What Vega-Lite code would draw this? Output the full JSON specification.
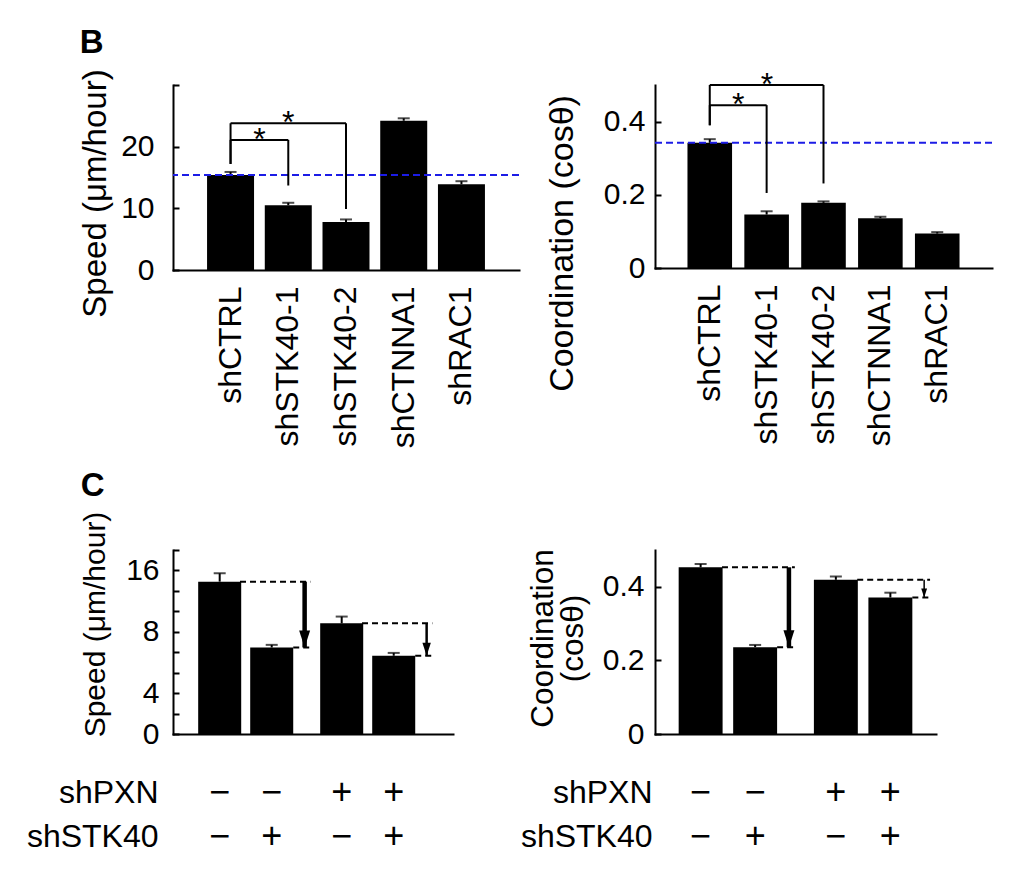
{
  "$schema": "https://vega.github.io/schema/vega-lite/v6.json",
  "background": "white",
  "padding": {"left": 26, "top": 26, "right": 5, "bottom": 5},
  "columns": 2,
  "align": "each",
  "spacing": {"row": 22, "column": 0},
  "resolve": {"scale": {"x": "independent", "y": "independent", "xOffset": "independent"}},
  "datasets": {
    "speedB": [
      {"cond": "shCTRL", "speed": 15.4, "err": 15.9},
      {"cond": "shSTK40-1", "speed": 10.5, "err": 10.9},
      {"cond": "shSTK40-2", "speed": 7.8, "err": 8.2},
      {"cond": "shCTNNA1", "speed": 24.2, "err": 24.6},
      {"cond": "shRAC1", "speed": 13.9, "err": 14.4}
    ],
    "coordB": [
      {"cond": "shCTRL", "coord": 0.342, "err": 0.352},
      {"cond": "shSTK40-1", "coord": 0.146, "err": 0.155},
      {"cond": "shSTK40-2", "coord": 0.178, "err": 0.182},
      {"cond": "shCTNNA1", "coord": 0.136, "err": 0.14},
      {"cond": "shRAC1", "coord": 0.094, "err": 0.098}
    ],
    "bracketsSpeed": [
      {"from": "shCTRL", "to": "shSTK40-1", "start": 17.2, "top": 21.1, "end": 13.7, "id": 1, "sig": "*"},
      {"from": "shCTRL", "to": "shSTK40-2", "start": 17.2, "top": 23.8, "end": 9.9, "id": 2, "sig": "*"}
    ],
    "bracketsCoord": [
      {"from": "shCTRL", "to": "shSTK40-1", "start": 0.39, "top": 0.445, "end": 0.205, "id": 1, "sig": "*"},
      {"from": "shCTRL", "to": "shSTK40-2", "start": 0.39, "top": 0.5, "end": 0.231, "id": 2, "sig": "*"}
    ],
    "speedC": [
      {"pxn": "−", "stk": "−", "speed": 14.1, "err": 15.5},
      {"pxn": "−", "stk": "+", "speed": 6.7, "err": 6.9},
      {"pxn": "+", "stk": "−", "speed": 8.8, "err": 9.5},
      {"pxn": "+", "stk": "+", "speed": 6.1, "err": 6.3}
    ],
    "coordC": [
      {"pxn": "−", "stk": "−", "coord": 0.453, "err": 0.462},
      {"pxn": "−", "stk": "+", "coord": 0.236, "err": 0.242},
      {"pxn": "+", "stk": "−", "coord": 0.419, "err": 0.428},
      {"pxn": "+", "stk": "+", "coord": 0.371, "err": 0.384}
    ],
    "arrowsSpeed": [
      {"pxn": "−", "hi": 14.1, "lo": 6.7},
      {"pxn": "+", "hi": 8.8, "lo": 6.1}
    ],
    "arrowsCoord": [
      {"pxn": "−", "hi": 0.453, "lo": 0.236},
      {"pxn": "+", "hi": 0.419, "lo": 0.371}
    ],
    "table": [
      {"pxn": "−", "stk": "−", "row": "shPXN", "sign": "−"},
      {"pxn": "−", "stk": "+", "row": "shPXN", "sign": "−"},
      {"pxn": "+", "stk": "−", "row": "shPXN", "sign": "+"},
      {"pxn": "+", "stk": "+", "row": "shPXN", "sign": "+"},
      {"pxn": "−", "stk": "−", "row": "shSTK40", "sign": "−"},
      {"pxn": "−", "stk": "+", "row": "shSTK40", "sign": "+"},
      {"pxn": "+", "stk": "−", "row": "shSTK40", "sign": "−"},
      {"pxn": "+", "stk": "+", "row": "shSTK40", "sign": "+"}
    ]
  },
  "concat": [
    {
      "width": 346, "height": 185,
      "title": {"text": "B", "anchor": "start", "frame": "bounds", "fontSize": 33, "fontWeight": "bold", "offset": 9, "color": "black"},
      "layer": [
        {"data": {"name": "speedB"}, "mark": {"type": "bar", "color": "black"},
         "encoding": {
           "x": {"field": "cond", "type": "nominal", "title": null, "scale": {"domain": ["shCTRL", "shSTK40-1", "shSTK40-2", "shCTNNA1", "shRAC1"], "paddingInner": 0.186, "paddingOuter": 0.59}},
           "y": {"field": "speed", "type": "quantitative", "scale": {"domain": [0, 30], "nice": false},
                 "axis": {"values": [0, 5, 10, 15, 20, 25, 30], "labelExpr": "datum.value == 0 || datum.value == 10 || datum.value == 20 ? datum.label : ''", "title": "Speed (μm/hour)", "titleY": 108, "titlePadding": 8, "labelPadding": 25, "labelOverlap": false}}
         }},
        {"data": {"name": "speedB"}, "mark": {"type": "rule", "color": "black", "strokeWidth": 2},
         "encoding": {"x": {"field": "cond", "type": "nominal"}, "y": {"field": "speed", "type": "quantitative"}, "y2": {"field": "err"}}},
        {"data": {"name": "speedB"}, "mark": {"type": "tick", "color": "black", "thickness": 2, "size": 12, "orient": "horizontal"},
         "encoding": {"x": {"field": "cond", "type": "nominal"}, "y": {"field": "err", "type": "quantitative"}}},
        {"data": {"name": "speedB"}, "transform": [{"filter": "datum.cond == 'shCTRL'"}], "mark": {"type": "rule", "color": "#1c1ce6", "strokeWidth": 2, "strokeDash": [7, 4]},
         "encoding": {"y": {"field": "speed", "type": "quantitative"}}},
        {"data": {"name": "bracketsSpeed"}, "mark": {"type": "rule", "color": "black", "strokeWidth": 2},
         "encoding": {"x": {"field": "from", "type": "nominal"}, "y": {"field": "start", "type": "quantitative"}, "y2": {"field": "top"}}},
        {"data": {"name": "bracketsSpeed"}, "mark": {"type": "rule", "color": "black", "strokeWidth": 2},
         "encoding": {"x": {"field": "from", "type": "nominal", "bandPosition": 0.5}, "x2": {"field": "to", "bandPosition": 0.5}, "y": {"field": "top", "type": "quantitative"}}},
        {"data": {"name": "bracketsSpeed"}, "mark": {"type": "rule", "color": "black", "strokeWidth": 2},
         "encoding": {"x": {"field": "to", "type": "nominal"}, "y": {"field": "top", "type": "quantitative"}, "y2": {"field": "end"}}},
        {"data": {"name": "bracketsSpeed"}, "transform": [{"filter": "datum.id == 1"}], "mark": {"type": "text", "fontSize": 32, "baseline": "middle", "color": "black"},
         "encoding": {"x": {"field": "from", "type": "nominal", "bandPosition": 1.114}, "y": {"field": "top", "type": "quantitative"}, "text": {"field": "sig"}}},
        {"data": {"name": "bracketsSpeed"}, "transform": [{"filter": "datum.id == 2"}], "mark": {"type": "text", "fontSize": 32, "baseline": "middle", "color": "black"},
         "encoding": {"x": {"field": "from", "type": "nominal", "bandPosition": 1.729}, "y": {"field": "top", "type": "quantitative"}, "text": {"field": "sig"}}}
      ]
    },
    {
      "width": 337, "height": 183,
      "layer": [
        {"data": {"name": "coordB"}, "mark": {"type": "bar", "color": "black"},
         "encoding": {
           "x": {"field": "cond", "type": "nominal", "title": null, "scale": {"domain": ["shCTRL", "shSTK40-1", "shSTK40-2", "shCTNNA1", "shRAC1"], "paddingInner": 0.216, "paddingOuter": 0.571}},
           "y": {"field": "coord", "type": "quantitative", "scale": {"domain": [0, 0.5], "nice": false},
                 "axis": {"values": [0, 0.1, 0.2, 0.3, 0.4, 0.5], "labelExpr": "datum.value == 0 ? '0' : (abs(datum.value - 0.2) < 0.0001 || abs(datum.value - 0.4) < 0.0001) ? format(datum.value, '.1f') : ''", "title": "Coordination (cosθ)", "titleFontSize": 34, "titleY": 158, "titlePadding": 24, "labelPadding": 16, "labelOverlap": false}}
         }},
        {"data": {"name": "coordB"}, "mark": {"type": "rule", "color": "black", "strokeWidth": 2},
         "encoding": {"x": {"field": "cond", "type": "nominal"}, "y": {"field": "coord", "type": "quantitative"}, "y2": {"field": "err"}}},
        {"data": {"name": "coordB"}, "mark": {"type": "tick", "color": "black", "thickness": 2, "size": 12, "orient": "horizontal"},
         "encoding": {"x": {"field": "cond", "type": "nominal"}, "y": {"field": "err", "type": "quantitative"}}},
        {"data": {"name": "coordB"}, "transform": [{"filter": "datum.cond == 'shCTRL'"}], "mark": {"type": "rule", "color": "#1c1ce6", "strokeWidth": 2, "strokeDash": [7, 4]},
         "encoding": {"y": {"field": "coord", "type": "quantitative"}}},
        {"data": {"name": "bracketsCoord"}, "mark": {"type": "rule", "color": "black", "strokeWidth": 2},
         "encoding": {"x": {"field": "from", "type": "nominal"}, "y": {"field": "start", "type": "quantitative"}, "y2": {"field": "top"}}},
        {"data": {"name": "bracketsCoord"}, "mark": {"type": "rule", "color": "black", "strokeWidth": 2},
         "encoding": {"x": {"field": "from", "type": "nominal", "bandPosition": 0.5}, "x2": {"field": "to", "bandPosition": 0.5}, "y": {"field": "top", "type": "quantitative"}}},
        {"data": {"name": "bracketsCoord"}, "mark": {"type": "rule", "color": "black", "strokeWidth": 2},
         "encoding": {"x": {"field": "to", "type": "nominal"}, "y": {"field": "top", "type": "quantitative"}, "y2": {"field": "end"}}},
        {"data": {"name": "bracketsCoord"}, "transform": [{"filter": "datum.id == 1"}], "mark": {"type": "text", "fontSize": 32, "baseline": "middle", "color": "black"},
         "encoding": {"x": {"field": "from", "type": "nominal", "bandPosition": 1.141}, "y": {"field": "top", "type": "quantitative"}, "text": {"field": "sig"}}},
        {"data": {"name": "bracketsCoord"}, "transform": [{"filter": "datum.id == 2"}], "mark": {"type": "text", "fontSize": 32, "baseline": "middle", "color": "black"},
         "encoding": {"x": {"field": "from", "type": "nominal", "bandPosition": 1.782}, "y": {"field": "top", "type": "quantitative"}, "text": {"field": "sig"}}}
      ]
    },
    {
      "width": 280, "height": 184,
      "title": {"text": "C", "anchor": "start", "frame": "bounds", "fontSize": 33, "fontWeight": "bold", "offset": 8, "color": "black"},
      "layer": [
        {"data": {"name": "arrowsSpeed"}, "mark": {"type": "rule", "color": "black", "strokeWidth": 2, "strokeDash": [6, 4]},
         "encoding": {"x": {"field": "pxn", "type": "nominal", "bandPosition": 0.44}, "x2": {"field": "pxn", "bandPosition": 1.18}, "y": {"field": "hi", "type": "quantitative"}}},
        {"data": {"name": "arrowsSpeed"}, "mark": {"type": "rule", "color": "black", "strokeWidth": 2, "strokeDash": [6, 4]},
         "encoding": {"x": {"field": "pxn", "type": "nominal", "bandPosition": 1.0}, "x2": {"field": "pxn", "bandPosition": 1.18}, "y": {"field": "lo", "type": "quantitative"}}},
        {"data": {"name": "speedC"}, "mark": {"type": "bar", "color": "black"},
         "encoding": {
           "x": {"field": "pxn", "type": "nominal", "scale": {"type": "band", "domain": ["−", "+"], "paddingInner": 0.221, "paddingOuter": 0.258, "align": 0.4}, "axis": {"labels": false, "ticks": false, "title": null}},
           "xOffset": {"field": "stk", "type": "nominal", "scale": {"type": "band", "domain": ["−", "+"], "paddingInner": 0.173, "paddingOuter": 0}},
           "y": {"field": "speed", "type": "quantitative", "stack": null, "scale": {"type": "log", "base": 2, "domain": [2.5198, 20.1587], "nice": false, "zero": false},
                 "axis": {"values": [2.5198, 3.1748, 4, 5.0397, 6.3496, 8, 10.0794, 12.6992, 16, 20.1587], "labelExpr": "datum.value < 3 ? '0' : (datum.value == 4 || datum.value == 8 || datum.value == 16) ? format(datum.value, 'd') : ''", "title": "Speed (μm/hour)", "titleFontSize": 30, "titleY": 74, "titlePadding": 15, "labelPadding": 20, "labelOverlap": false}}
         }},
        {"data": {"name": "speedC"}, "mark": {"type": "rule", "color": "black", "strokeWidth": 2},
         "encoding": {"x": {"field": "pxn", "type": "nominal"}, "xOffset": {"field": "stk", "type": "nominal"}, "y": {"field": "speed", "type": "quantitative"}, "y2": {"field": "err"}}},
        {"data": {"name": "speedC"}, "mark": {"type": "tick", "color": "black", "thickness": 2, "size": 12, "orient": "horizontal"},
         "encoding": {"x": {"field": "pxn", "type": "nominal"}, "xOffset": {"field": "stk", "type": "nominal"}, "y": {"field": "err", "type": "quantitative"}}},
        {"data": {"name": "arrowsSpeed"}, "mark": {"type": "rule", "color": "black"},
         "encoding": {"x": {"field": "pxn", "type": "nominal", "bandPosition": 1.12}, "y": {"field": "hi", "type": "quantitative"}, "y2": {"field": "lo"},
                      "strokeWidth": {"condition": {"test": "datum.pxn == '+'", "value": 2.5}, "value": 4.5}}},
        {"data": {"name": "arrowsSpeed"}, "mark": {"type": "point", "shape": "M-0.65,-2L0.65,-2L0,0Z", "filled": true, "color": "black", "opacity": 1, "strokeWidth": 0},
         "encoding": {"x": {"field": "pxn", "type": "nominal", "bandPosition": 1.12}, "y": {"field": "lo", "type": "quantitative"},
                      "size": {"condition": {"test": "datum.pxn == '+'", "value": 169}, "value": 286}}}
      ]
    },
    {
      "width": 281, "height": 184,
      "layer": [
        {"data": {"name": "arrowsCoord"}, "mark": {"type": "rule", "color": "black", "strokeWidth": 2, "strokeDash": [6, 4]},
         "encoding": {"x": {"field": "pxn", "type": "nominal", "bandPosition": 0.44}, "x2": {"field": "pxn", "bandPosition": 1.18}, "y": {"field": "hi", "type": "quantitative"}}},
        {"data": {"name": "arrowsCoord"}, "mark": {"type": "rule", "color": "black", "strokeWidth": 2, "strokeDash": [6, 4]},
         "encoding": {"x": {"field": "pxn", "type": "nominal", "bandPosition": 1.0}, "x2": {"field": "pxn", "bandPosition": 1.18}, "y": {"field": "lo", "type": "quantitative"}}},
        {"data": {"name": "coordC"}, "mark": {"type": "bar", "color": "black"},
         "encoding": {
           "x": {"field": "pxn", "type": "nominal", "scale": {"type": "band", "domain": ["−", "+"], "paddingInner": 0.272, "paddingOuter": 0.175}, "axis": {"labels": false, "ticks": false, "title": null}},
           "xOffset": {"field": "stk", "type": "nominal", "scale": {"type": "band", "domain": ["−", "+"], "paddingInner": 0.194, "paddingOuter": 0}},
           "y": {"field": "coord", "type": "quantitative", "stack": null, "scale": {"domain": [0, 0.5], "nice": false},
                 "axis": {"values": [0, 0.05, 0.1, 0.15, 0.2, 0.25, 0.3, 0.35, 0.4, 0.45, 0.5], "labelExpr": "datum.value == 0 ? '0' : (abs(datum.value - 0.2) < 0.0001 || abs(datum.value - 0.4) < 0.0001) ? format(datum.value, '.1f') : ''", "title": ["Coordination", "(cosθ)"], "titleFontSize": 31.5, "titleLineHeight": 30, "titleY": 88, "titlePadding": 13, "labelPadding": 17, "labelOverlap": false}}
         }},
        {"data": {"name": "coordC"}, "mark": {"type": "rule", "color": "black", "strokeWidth": 2},
         "encoding": {"x": {"field": "pxn", "type": "nominal"}, "xOffset": {"field": "stk", "type": "nominal"}, "y": {"field": "coord", "type": "quantitative"}, "y2": {"field": "err"}}},
        {"data": {"name": "coordC"}, "mark": {"type": "tick", "color": "black", "thickness": 2, "size": 12, "orient": "horizontal"},
         "encoding": {"x": {"field": "pxn", "type": "nominal"}, "xOffset": {"field": "stk", "type": "nominal"}, "y": {"field": "err", "type": "quantitative"}}},
        {"data": {"name": "arrowsCoord"}, "mark": {"type": "rule", "color": "black"},
         "encoding": {"x": {"field": "pxn", "type": "nominal", "bandPosition": 1.12}, "y": {"field": "hi", "type": "quantitative"}, "y2": {"field": "lo"},
                      "strokeWidth": {"condition": {"test": "datum.pxn == '+'", "value": 1.5}, "value": 4.5}}},
        {"data": {"name": "arrowsCoord"}, "mark": {"type": "point", "shape": "M-0.65,-2L0.65,-2L0,0Z", "filled": true, "color": "black", "opacity": 1, "strokeWidth": 0},
         "encoding": {"x": {"field": "pxn", "type": "nominal", "bandPosition": 1.12}, "y": {"field": "lo", "type": "quantitative"},
                      "size": {"condition": {"test": "datum.pxn == '+'", "value": 81}, "value": 286}}}
      ]
    },
    {
      "width": 280, "height": 88,
      "data": {"name": "table"},
      "mark": {"type": "text", "fontSize": 36, "color": "black", "baseline": "middle"},
      "encoding": {
        "x": {"field": "pxn", "type": "nominal", "scale": {"type": "band", "domain": ["−", "+"], "paddingInner": 0.221, "paddingOuter": 0.258, "align": 0.4}, "axis": null},
        "xOffset": {"field": "stk", "type": "nominal", "scale": {"type": "band", "domain": ["−", "+"], "paddingInner": 0.173, "paddingOuter": 0}},
        "y": {"field": "row", "type": "nominal", "scale": {"type": "band", "domain": ["shPXN", "shSTK40"], "paddingInner": 0, "paddingOuter": 0},
              "axis": {"domain": false, "ticks": false, "labelFontSize": 32, "labelPadding": 15, "title": null}},
        "text": {"field": "sign"}
      }
    },
    {
      "width": 281, "height": 88,
      "data": {"name": "table"},
      "mark": {"type": "text", "fontSize": 36, "color": "black", "baseline": "middle"},
      "encoding": {
        "x": {"field": "pxn", "type": "nominal", "scale": {"type": "band", "domain": ["−", "+"], "paddingInner": 0.272, "paddingOuter": 0.175}, "axis": null},
        "xOffset": {"field": "stk", "type": "nominal", "scale": {"type": "band", "domain": ["−", "+"], "paddingInner": 0.194, "paddingOuter": 0}},
        "y": {"field": "row", "type": "nominal", "scale": {"type": "band", "domain": ["shPXN", "shSTK40"], "paddingInner": 0, "paddingOuter": 0},
              "axis": {"domain": false, "ticks": false, "labelFontSize": 32, "labelPadding": 3, "title": null}},
        "text": {"field": "sign"}
      }
    }
  ],
  "config": {
    "font": "Liberation Sans",
    "view": {"stroke": null},
    "text": {"font": "Liberation Sans"},
    "title": {"font": "Liberation Sans", "color": "black"},
    "axis": {
      "labelFont": "Liberation Sans", "titleFont": "Liberation Sans",
      "labelFontSize": 30, "titleFontSize": 33, "titleFontWeight": "normal",
      "labelColor": "black", "titleColor": "black",
      "domainColor": "black", "tickColor": "black",
      "domainWidth": 2, "tickWidth": 2, "grid": false, "domainCap": "square"
    },
    "axisY": {"tickSize": -6},
    "axisX": {"ticks": false, "labelAngle": -90, "labelFontSize": 32, "labelPadding": 16}
  }
}
